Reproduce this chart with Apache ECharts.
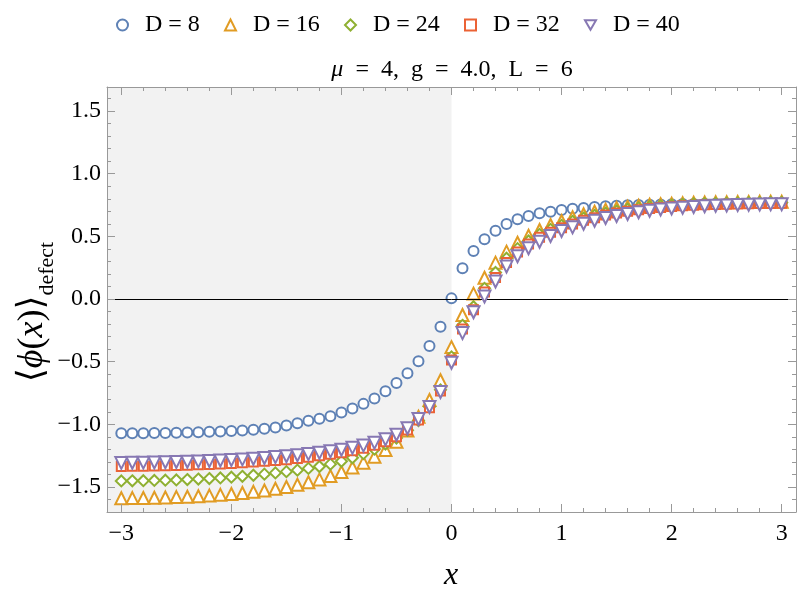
<!DOCTYPE html>
<html><head><meta charset="utf-8">
<script src="https://cdn.jsdelivr.net/npm/echarts@6/dist/echarts.min.js"></script>
<style>html,body{margin:0;padding:0;background:#fff}#c{width:797px;height:601px}</style>
</head><body><div id="c"></div>
<script>
const xValues = [-3.0,-2.9,-2.8,-2.7,-2.6,-2.5,-2.4,-2.3,-2.2,-2.1,-2.0,-1.9,-1.8,-1.7,-1.6,-1.5,-1.4,-1.3,-1.2,-1.1,-1.0,-0.9,-0.8,-0.7,-0.6,-0.5,-0.4,-0.3,-0.2,-0.1,0.0,0.1,0.2,0.3,0.4,0.5,0.6,0.7,0.8,0.9,1.0,1.1,1.2,1.3,1.4,1.5,1.6,1.7,1.8,1.9,2.0,2.1,2.2,2.3,2.4,2.5,2.6,2.7,2.8,2.9,3.0];
const d8  = [-1.072,-1.072,-1.071,-1.070,-1.069,-1.067,-1.065,-1.063,-1.060,-1.057,-1.054,-1.049,-1.043,-1.035,-1.025,-1.010,-0.992,-0.972,-0.956,-0.935,-0.906,-0.874,-0.837,-0.795,-0.736,-0.671,-0.592,-0.497,-0.376,-0.222,0.005,0.245,0.384,0.476,0.545,0.599,0.636,0.662,0.684,0.697,0.710,0.720,0.727,0.734,0.740,0.745,0.748,0.751,0.753,0.755,0.757,0.758,0.759,0.760,0.761,0.762,0.762,0.763,0.763,0.764,0.764];
const d16 = [-1.590,-1.589,-1.588,-1.586,-1.584,-1.581,-1.578,-1.574,-1.569,-1.563,-1.556,-1.548,-1.539,-1.528,-1.515,-1.500,-1.483,-1.463,-1.440,-1.413,-1.381,-1.345,-1.306,-1.260,-1.205,-1.139,-1.050,-0.940,-0.806,-0.648,-0.384,-0.128,0.043,0.170,0.290,0.378,0.449,0.505,0.551,0.591,0.622,0.652,0.676,0.697,0.713,0.726,0.737,0.745,0.752,0.757,0.761,0.765,0.768,0.770,0.772,0.773,0.774,0.775,0.776,0.776,0.777];
const d24 = [-1.452,-1.451,-1.450,-1.448,-1.446,-1.444,-1.441,-1.437,-1.433,-1.428,-1.422,-1.415,-1.407,-1.398,-1.388,-1.378,-1.366,-1.352,-1.337,-1.318,-1.295,-1.267,-1.234,-1.198,-1.157,-1.110,-1.048,-0.970,-0.860,-0.725,-0.462,-0.210,-0.062,0.085,0.212,0.325,0.402,0.463,0.516,0.556,0.588,0.620,0.646,0.668,0.686,0.702,0.716,0.727,0.736,0.743,0.749,0.754,0.758,0.761,0.763,0.765,0.767,0.768,0.769,0.770,0.771];
const d32 = [-1.336,-1.335,-1.334,-1.333,-1.331,-1.329,-1.326,-1.323,-1.320,-1.316,-1.312,-1.307,-1.301,-1.295,-1.288,-1.283,-1.273,-1.263,-1.252,-1.240,-1.227,-1.211,-1.192,-1.168,-1.139,-1.100,-1.045,-0.966,-0.868,-0.735,-0.487,-0.240,-0.085,0.055,0.172,0.292,0.376,0.439,0.492,0.532,0.569,0.599,0.628,0.649,0.670,0.686,0.700,0.713,0.723,0.731,0.738,0.744,0.749,0.752,0.755,0.757,0.759,0.761,0.762,0.763,0.764];
const d40 = [-1.308,-1.307,-1.306,-1.305,-1.303,-1.301,-1.299,-1.296,-1.293,-1.289,-1.285,-1.280,-1.275,-1.269,-1.262,-1.255,-1.247,-1.238,-1.228,-1.216,-1.203,-1.188,-1.170,-1.148,-1.120,-1.083,-1.032,-0.958,-0.862,-0.742,-0.508,-0.272,-0.105,0.020,0.140,0.260,0.342,0.405,0.457,0.503,0.543,0.572,0.601,0.625,0.646,0.662,0.678,0.692,0.704,0.714,0.722,0.729,0.735,0.740,0.744,0.747,0.750,0.752,0.754,0.756,0.757];
const seriesNames = ['D = 8','D = 16','D = 24','D = 32','D = 40'];
const xMajorTicks = [-3,-2,-1,0,1,2,3];
const xMinorTicks = [-2.8,-2.6,-2.4,-2.2,-1.8,-1.6,-1.4,-1.2,-0.8,-0.6,-0.4,-0.2,0.2,0.4,0.6,0.8,1.2,1.4,1.6,1.8,2.2,2.4,2.6,2.8];
const yMajorTicks = [-1.5,-1.0,-0.5,0.0,0.5,1.0,1.5];
const yMinorTicks = [-1.7,-1.6,-1.4,-1.3,-1.2,-1.1,-0.9,-0.8,-0.7,-0.6,-0.4,-0.3,-0.2,-0.1,0.1,0.2,0.3,0.4,0.6,0.7,0.8,0.9,1.1,1.2,1.3,1.4,1.6];

const X_MIN = -3.13, X_MAX = 3.13, Y_MIN = -1.70, Y_MAX = 1.692;
const SERIF = "'Liberation Serif','DejaVu Serif','Times New Roman',serif";
const colors = ['#5E81B5','#E19C24','#8FB032','#EB6235','#8778B3'];
const symbols = ['circle','triangle','diamond','rect','path://M0,0 L10,0 L5,8.66 Z'];
const symSizes = [10,12,11,9,12];
const allData = [d8,d16,d24,d32,d40];
const legendLeft = [116,224,344,464,584];

const frameColor = '#999';
const fmtX = v => { const r = Math.round(v); return (r < 0 ? '\u2212' : '') + Math.abs(r); };
const fmtY = v => (v < -1e-9 ? '\u2212' : '') + Math.abs(v).toFixed(1);

function xAxisDef(pos, ticks, len, labels, line) {
  return {
    type:'value', min:X_MIN, max:X_MAX, position:pos, z:5,
    axisLine:{show:line, onZero:false, lineStyle:{color:frameColor, width:1}},
    axisTick:{show:true, inside:true, length:len, customValues:ticks, lineStyle:{color:frameColor, width:1}},
    axisLabel: labels ? {show:true, customValues:ticks, formatter:fmtX, fontFamily:SERIF, fontSize:24, color:'#000', margin:10} : {show:false},
    splitLine:{show:false}
  };
}
function yAxisDef(pos, ticks, len, labels, line) {
  return {
    type:'value', min:Y_MIN, max:Y_MAX, position:pos, z:5,
    axisLine:{show:line, onZero:false, lineStyle:{color:frameColor, width:1}},
    axisTick:{show:true, inside:true, length:len, customValues:ticks, lineStyle:{color:frameColor, width:1}},
    axisLabel: labels ? {show:true, customValues:ticks, formatter:fmtY, fontFamily:SERIF, fontSize:24, color:'#000', margin:6} : {show:false},
    splitLine:{show:false}
  };
}

const series = [{
  type:'scatter', name:'bg', data:[], z:1, silent:true,
  markArea:{silent:true, itemStyle:{color:'#f2f2f2'}, data:[[{xAxis:X_MIN},{xAxis:0}]]},
  markLine:{silent:true, symbol:'none', label:{show:false}, lineStyle:{color:'#000', width:1, type:'solid'}, data:[{yAxis:0}]}
}];
seriesNames.forEach((n,i) => {
  series.push({
    type:'scatter', name:n, z:3+i,
    symbol:symbols[i], symbolSize:symSizes[i],
    itemStyle:{color:'#fff', borderColor:colors[i], borderWidth:2, opacity:1},
    data:xValues.map((x,j) => [x, allData[i][j]])
  });
});

const chart = echarts.init(document.getElementById('c'), null, {renderer:'canvas'});
chart.setOption({
  animation:false,
  backgroundColor:'#fff',
  grid:{left:107, right:1, top:87, bottom:89, containLabel:false},
  legend: seriesNames.map((n,i) => ({
    data:[n], left:legendLeft[i], top:13, padding:0,
    itemWidth:11, itemHeight:11, selectedMode:false,
    textStyle:{fontFamily:SERIF, fontSize:24, color:'#000', padding:[0,0,0,12]}
  })),
  xAxis:[
    xAxisDef('bottom', xMajorTicks, 8, true, true),
    xAxisDef('bottom', xMinorTicks, 4, false, false),
    xAxisDef('top', xMajorTicks, 8, false, true),
    xAxisDef('top', xMinorTicks, 4, false, false)
  ],
  yAxis:[
    yAxisDef('left', yMajorTicks, 8, true, true),
    yAxisDef('left', yMinorTicks, 4, false, false),
    yAxisDef('right', yMajorTicks, 8, false, true),
    yAxisDef('right', yMinorTicks, 4, false, false)
  ],
  graphic:[
    {type:'text', x:452, y:70, silent:true, style:{
      text:'{i|\u03bc}\u2002=\u20024,\u2002g\u2002=\u20024.0,\u2002L\u2002=\u20026', align:'center', verticalAlign:'middle',
      fontFamily:SERIF, fontSize:24, fill:'#000',
      rich:{i:{fontFamily:SERIF, fontSize:24, fontStyle:'italic'}}
    }},
    {type:'text', x:451, y:576, silent:true, style:{
      text:'x', align:'center', verticalAlign:'middle',
      fontFamily:SERIF, fontSize:32, fontStyle:'italic', fill:'#000'
    }},
    {type:'text', x:33, y:312, rotation:Math.PI/2, silent:true, style:{
      text:'{a|\u27e8}{i|\u03d5}{a|(}{i|x}{a|)\u27e9}{s|defect}', align:'center', verticalAlign:'middle',
      fontFamily:SERIF, fontSize:36, fill:'#000',
      rich:{
        a:{fontFamily:SERIF, fontSize:36, lineHeight:50, verticalAlign:'middle'},
        i:{fontFamily:SERIF, fontSize:36, fontStyle:'italic', lineHeight:50, verticalAlign:'middle'},
        s:{fontFamily:SERIF, fontSize:22, lineHeight:26, verticalAlign:'bottom'}
      }
    }}
  ],
  series:series
});
</script></body></html>
